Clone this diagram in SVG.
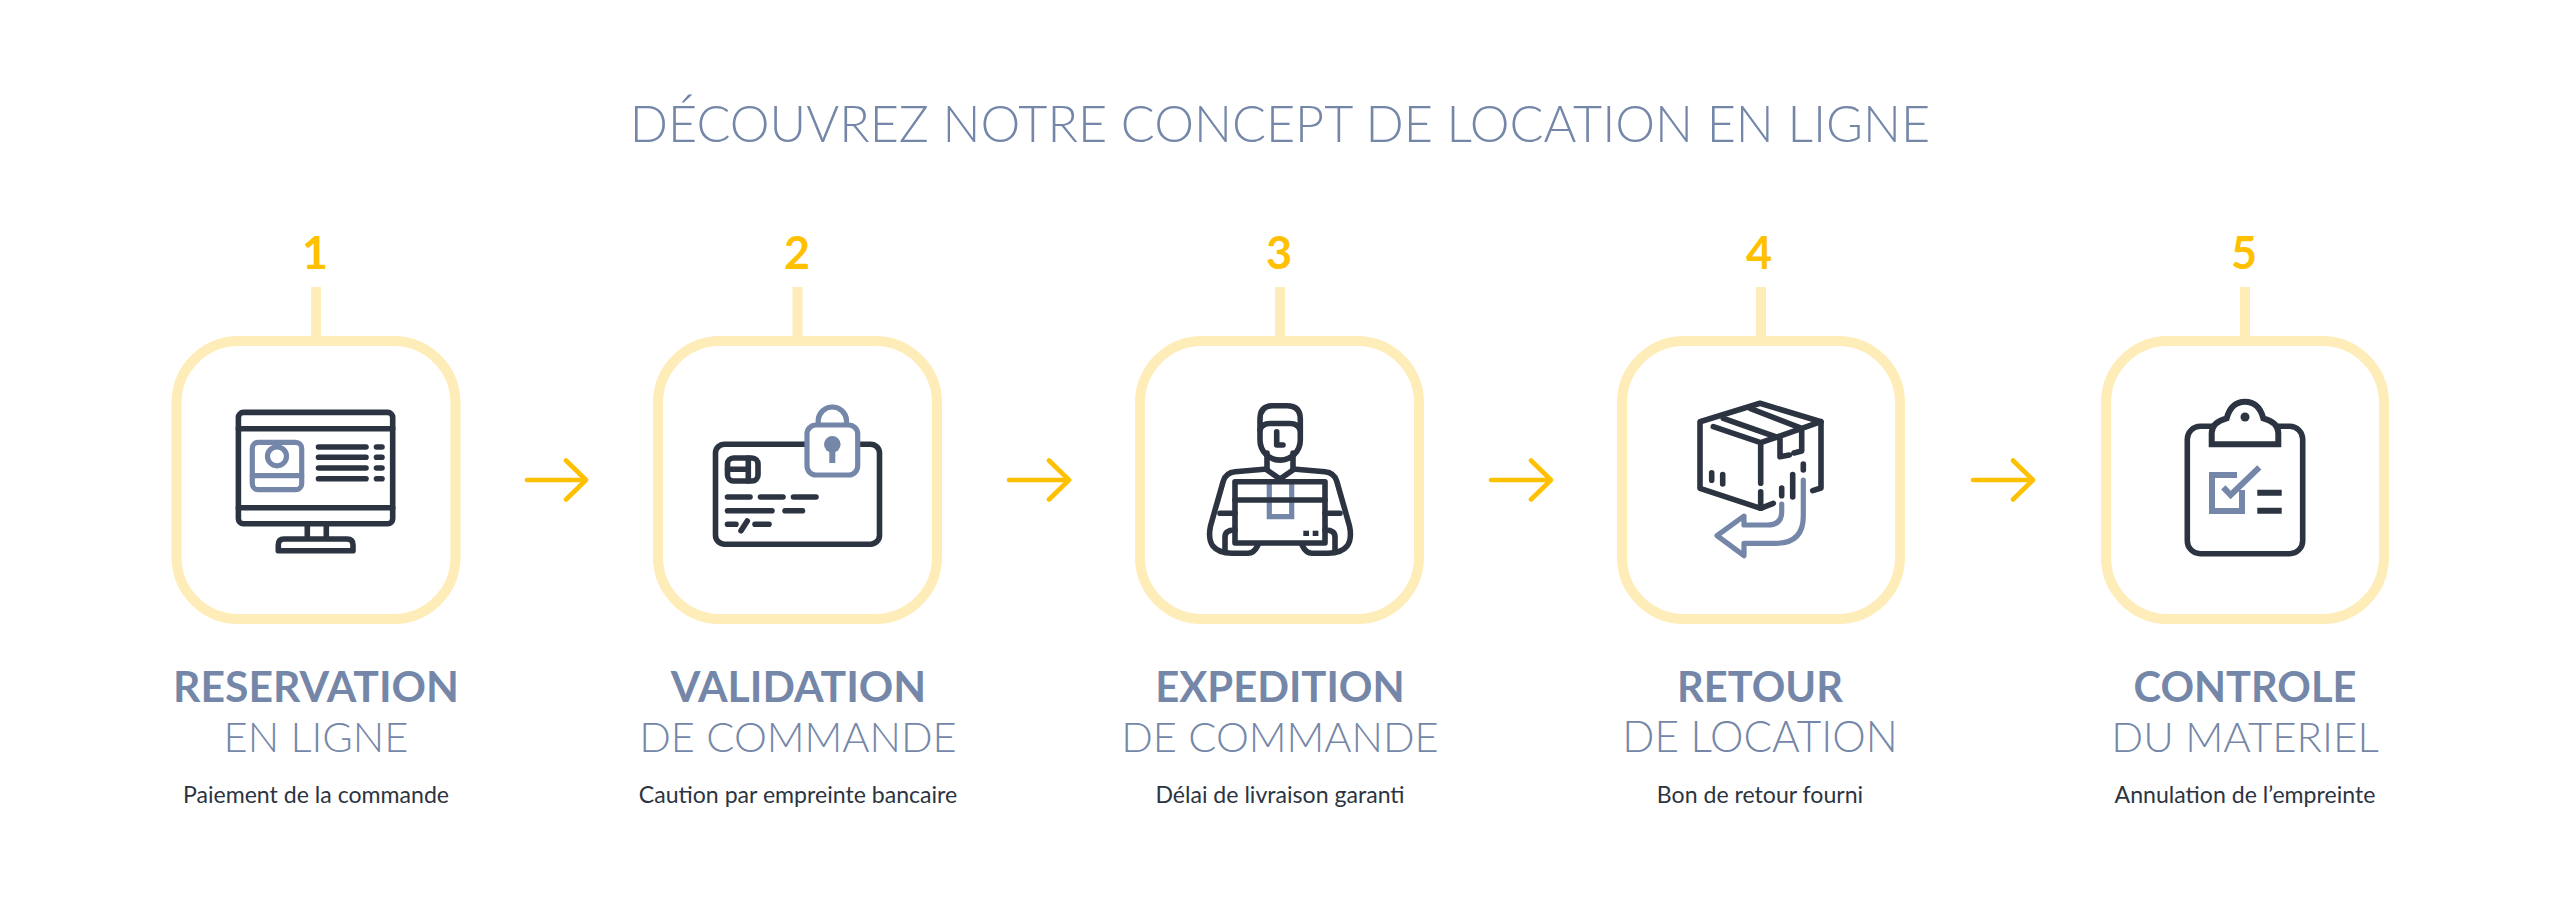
<svg xmlns="http://www.w3.org/2000/svg" width="2560" height="911" viewBox="0 0 2560 911">
<style>
text{font-family:Lato,"Liberation Sans",sans-serif;text-anchor:middle}
.t{font-size:50.3px;font-weight:300;fill:#7587a8}
.n{font-size:45px;font-weight:700;fill:#ffc000}
.h{font-size:42.7px;font-weight:700;fill:#7587a8}
.s{font-size:41.6px;font-weight:300;fill:#7587a8}
.d{font-size:23.1px;font-weight:400;fill:#2c3441}
.b{fill:none;stroke:#feedb8;stroke-width:10}
.k{fill:none;stroke:#2c3441;stroke-width:5.6;stroke-linecap:round;stroke-linejoin:round}
.u{fill:none;stroke:#7587a8;stroke-width:5.2;stroke-linecap:round;stroke-linejoin:round}
.a{fill:none;stroke:#ffc000;stroke-width:4.6;stroke-linecap:round;stroke-linejoin:round}
</style>
<rect width="2560" height="911" fill="#fff"/>
<text class="t" x="1280" y="142">DÉCOUVREZ NOTRE CONCEPT DE LOCATION EN LIGNE</text>
<g id="connectors">
<path class="a" d="M527 480H586M566 460.500L586 480L566 499.500"/>
<path class="a" d="M1009 480H1069M1049 460.500L1069 480L1049 499.500"/>
<path class="a" d="M1491 480H1551M1531 460.500L1551 480L1531 499.500"/>
<path class="a" d="M1973 480H2033M2013 460.500L2033 480L2013 499.500"/>
</g>
<g id="node1">
<text class="n" x="315" y="269">1</text>
<rect x="311" y="287" width="10" height="50" fill="#feedb8"/>
<rect class="b" x="176.500" y="341" width="279" height="278" rx="62"/>
<g class="k">
<rect x="238.400" y="412.400" width="154.300" height="111.300" rx="5"/>
<path d="M238.400 428.700H392.700M238.400 507.700H392.700M307.300 524V539M326.300 524V539M278.300 550.700V545Q278.300 539 284 539H347Q353 539 353 545V550.700Z"/>
<path d="M318.500 447H366M376.500 447H382M318.500 457.300H366M376.500 457.300H382M318.500 468H366M376.500 468H382M318.500 478.700H366M376.500 478.700H382"/>
</g>
<g class="u">
<rect x="252.300" y="442.300" width="49.400" height="47.400" rx="6"/>
<path d="M252.300 475.700H301.700"/>
<circle cx="277" cy="456.300" r="9.500"/>
</g>
<text class="h" x="316" y="702">RESERVATION</text>
<text class="s" x="316" y="752">EN LIGNE</text>
<text class="d" x="316" y="803">Paiement de la commande</text>
</g>
<g id="node2">
<text class="n" x="797" y="269">2</text>
<rect x="792.500" y="287" width="10" height="50" fill="#feedb8"/>
<rect class="b" x="658" y="341" width="279" height="278" rx="62"/>
<g class="k">
<rect x="715.500" y="444.200" width="164" height="100" rx="9"/>
<rect x="727.500" y="458" width="30.500" height="23" rx="6"/>
<path d="M727.500 469.300H748.300M748.300 458V481"/>
<path d="M727.500 497H750M760.500 497H783M793.500 497H816M727.500 510.700H772M785 510.700H802.500M727.500 524.300H736M755 524.300H769M747.300 521L741 530.700"/>
</g>
<path class="u" d="M818.200 425V420A14.200 14.200 0 0 1 846.500 420V425"/>
<rect class="u" x="807" y="425" width="50.700" height="50" rx="9" style="fill:#fff"/>
<circle cx="832.300" cy="444.300" r="8.300" fill="#7587a8"/>
<rect x="829.300" y="446" width="6" height="17" fill="#7587a8"/>
<text class="h" x="798.500" y="702">VALIDATION</text>
<text class="s" x="798" y="752">DE COMMANDE</text>
<text class="d" x="798" y="803">Caution par empreinte bancaire</text>
</g>
<g id="node3">
<text class="n" x="1279" y="269">3</text>
<rect x="1275" y="287" width="10" height="50" fill="#feedb8"/>
<rect class="b" x="1140" y="341" width="279" height="278" rx="62"/>
<path class="u" d="M1269.300 483V516.700H1291.700V483" style="stroke-linecap:butt;stroke-linejoin:miter"/>
<g class="k">
<path d="M1260 430V419Q1260 405.700 1273 405.700H1287Q1300.300 405.700 1300.300 419V440A20 20 0 0 1 1260 440Z"/>
<path d="M1260 430Q1262 423.500 1270 423.500H1290Q1298 423.500 1300 430"/>
<path d="M1276.700 431.700V445H1283"/>
<path d="M1267 453V470L1280 479L1293 470V453"/>
<path d="M1267 469L1235 471.700Q1226 472.500 1223.300 481L1210.500 526Q1205 553 1232 553.300H1248Q1254 553.300 1258 545"/>
<path d="M1293 469L1325 471.700Q1334 472.500 1336.700 481L1349.500 526Q1355 553 1328 553.300H1312Q1306 553.300 1302 545"/>
<rect x="1235" y="481.700" width="90" height="61.300"/>
<path d="M1235 500H1325M1220 513.300H1235M1325 513.300H1340M1225 552V537Q1225 530 1235 530M1335 552V537Q1335 530 1325 530"/>
</g>
<rect x="1303.300" y="530.700" width="5.700" height="5.300" fill="#2c3441"/>
<rect x="1312.700" y="530.700" width="5.700" height="5.300" fill="#2c3441"/>
<text class="h" x="1280" y="702" style="font-size:41.800px">EXPEDITION</text>
<text class="s" x="1280" y="752">DE COMMANDE</text>
<text class="d" x="1280" y="803">Délai de livraison garanti</text>
</g>
<g id="node4">
<text class="n" x="1759" y="269">4</text>
<rect x="1756" y="287" width="10" height="50" fill="#feedb8"/>
<rect class="b" x="1622" y="341" width="278" height="278" rx="62"/>
<g class="k">
<path d="M1812.700 490.700L1821 488V421.700L1760 403.300L1700 421.700V488.300L1760.700 508.300L1773.300 503.300"/>
<path d="M1713.300 426.700L1760.700 442.700L1821 421.700M1723.300 418.300L1780 438.300V456.700L1789.300 455M1750 408.300L1801.700 428.300V451L1794 453"/>
<path d="M1760.700 442.700V483.300M1760.700 491.700V508.300M1711.700 472.700V480.300M1722.700 474.500V484M1781.700 488V495.700M1792.700 474.500V497M1803.300 464V470"/>
</g>
<path class="u" d="M1781.700 504V512Q1781.700 525 1767 525H1744V516L1717 535.700L1744 555.700V543.300H1776Q1803.300 543.300 1803.300 516V480"/>
<text class="h" x="1760" y="702" style="font-size:41.600px">RETOUR</text>
<text class="s" x="1760" y="752" style="font-size:42.300px">DE LOCATION</text>
<text class="d" x="1760" y="803">Bon de retour fourni</text>
</g>
<g id="node5">
<text class="n" x="2244" y="269">5</text>
<rect x="2240" y="287" width="10" height="50" fill="#feedb8"/>
<rect class="b" x="2106" y="341" width="278" height="278" rx="62"/>
<rect class="k" x="2187.300" y="426.300" width="115.400" height="127.400" rx="13"/>
<path class="k" d="M2211.700 444.300V433Q2212 422 2226.700 418.300Q2231 401.700 2245 401.700Q2259 401.700 2263.300 418.300Q2278 422 2278.300 433V444.300Z" style="fill:#fff;stroke-linecap:butt;stroke-linejoin:miter;stroke-width:6"/>
<circle cx="2245" cy="417" r="4.500" fill="#2c3441"/>
<path d="M2237 475H2212V511H2242V490" fill="none" stroke="#7587a8" stroke-width="6"/>
<path d="M2223.300 487.300L2230.700 495L2259.300 467.300" fill="none" stroke="#7587a8" stroke-width="6"/>
<path d="M2257.300 492.700H2281.700M2257.300 510.700H2281.700" fill="none" stroke="#2c3441" stroke-width="6"/>
<text class="h" x="2245" y="702" style="font-size:41.600px">CONTROLE</text>
<text class="s" x="2245" y="752" style="font-size:42px">DU MATERIEL</text>
<text class="d" x="2245" y="803">Annulation de l’empreinte</text>
</g>
</svg>
